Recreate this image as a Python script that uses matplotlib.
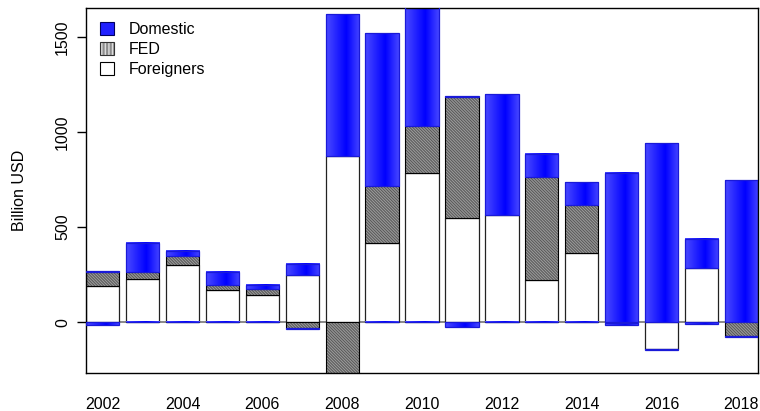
import numpy as np
import matplotlib.pyplot as plt
from matplotlib.patches import Patch, Rectangle
from matplotlib.colors import LinearSegmentedColormap

plt.rcParams['font.family'] = ['Liberation Sans', 'DejaVu Sans']
plt.rcParams['hatch.linewidth'] = 0.4

# net purchases of treasuries, billion USD
years = np.arange(2002, 2019)
foreigners = [189, 227, 299, 170, 140, 250, 875, 416, 787, 546, 565, 219, 364, 0, -140, 283, 0]
fed = [76, 35, 47, 24, 33, -33, -300, 301, 245, 640, 0, 544, 252, -4, 0, 0, -73]
domestic_pos = [5, 153, 30, 70, 23, 58, 745, 802, 660, 3, 635, 124, 121, 787, 941, 154, 747]
domestic_neg = [-13, -2, -2, -2, -2, -4, -2, -2, -2, -26, -2, -2, -2, -12, -5, -8, -3]

width = 1 / 1.2

fig = plt.figure(figsize=(7.6, 4.11), dpi=100)
ax = fig.add_axes([0.1132, 0.0925, 0.8842, 0.888])

# horizontal shading for the blue bars
blues = LinearSegmentedColormap.from_list(
    'bars', [(0.0, '#4a4aff'), (0.6, '#0000ff'), (1.0, '#4545ff')])
grad = np.linspace(0, 1, 64).reshape(1, -1)

ax.axhline(0, color='#808080', lw=1.3, zorder=0)

for i, yr in enumerate(years):
    top, bot = 0.0, 0.0
    segs = [('F', foreigners[i]), ('FED', fed[i]),
            ('D', domestic_pos[i]), ('D', domestic_neg[i])]
    for kind, v in segs:
        if v >= 0:
            y0, y1 = top, top + v
            top = y1
        else:
            y0, y1 = bot + v, bot
            bot = y0
        if kind == 'D':
            ax.imshow(grad, cmap=blues, aspect='auto', interpolation='bilinear',
                      extent=(yr - width / 2, yr + width / 2, y0, y1), zorder=2)
            ax.add_patch(Rectangle((yr - width / 2, y0), width, y1 - y0,
                                   fill=False, edgecolor='#1a1ad8', lw=0.9, zorder=3))
        elif kind == 'FED':
            if v != 0:
                ax.bar(yr, y1 - y0, width, bottom=y0, color='white', hatch='\\' * 22,
                       edgecolor='black', lw=0.8, zorder=2)
        else:
            if v != 0:
                ax.bar(yr, y1 - y0, width, bottom=y0, color='white',
                       edgecolor='#222222', lw=0.9, zorder=2)

ax.set_xlim(years[0] - width / 2, years[-1] + width / 2)
ax.set_ylim(-268, 1653)

ax.set_xticks(years[::2])
ax.set_xticklabels([str(y) for y in years[::2]], fontsize=11.5)
ax.tick_params(axis='x', length=0, pad=17)
ax.set_yticks([0, 500, 1000, 1500])
ax.set_yticklabels(['0', '500', '1000', '1500'], rotation=90, va='center', fontsize=11.5)
ax.tick_params(axis='y', length=6.5, width=1, pad=5)
ax.set_ylabel('Billion USD', fontsize=11.5, labelpad=20)
for s in ax.spines.values():
    s.set_linewidth(1)

handles = [Patch(facecolor='#2020ff', edgecolor='#000060', lw=0.8),
           Patch(facecolor='white', edgecolor='#333333', hatch='|' * 12, lw=0.8),
           Patch(facecolor='white', edgecolor='black', lw=0.8)]
ax.legend(handles, ['Domestic', 'FED', 'Foreigners'], loc='upper left',
          frameon=False, fontsize=11.5, handlelength=0.85, handleheight=0.85,
          handletextpad=0.9, labelspacing=0.3, borderaxespad=0.5)

fig.savefig('out.png', dpi=100)
